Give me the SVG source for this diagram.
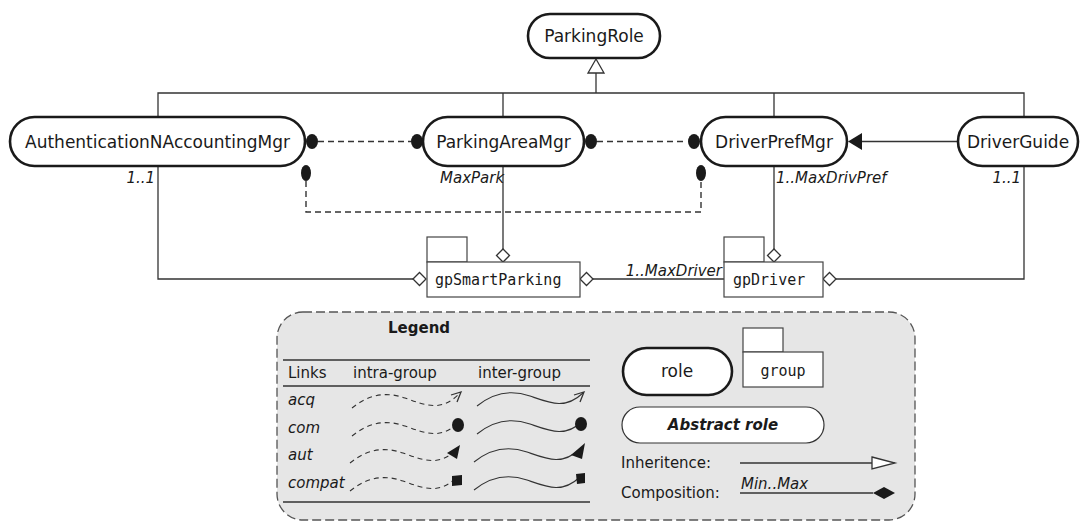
<svg xmlns="http://www.w3.org/2000/svg" width="1082" height="523" viewBox="0 0 1082 523">
<style>
.role{fill:#fff;stroke:#1a1a1a;stroke-width:2.6}
.lbl{font-family:"DejaVu Sans",sans-serif;font-size:17px;fill:#1a1a1a;text-anchor:middle}
.mono{font-family:"DejaVu Sans Mono",monospace;font-size:15px;fill:#1a1a1a}
.it{font-family:"DejaVu Sans",sans-serif;font-size:15px;font-style:italic;fill:#1a1a1a}
.lg{font-family:"DejaVu Sans",sans-serif;font-size:15px;fill:#1a1a1a}
.ln{fill:none;stroke:#333;stroke-width:1.3}
.dash{fill:none;stroke:#333;stroke-width:1.4;stroke-dasharray:6,4}
.grp{fill:#fff;stroke:#444;stroke-width:1.2}
.dot{fill:#1a1a1a}
.dia{fill:#fff;stroke:#333;stroke-width:1.3}
</style>
<defs>
<polygon id="diaH" points="-6.5,0 0,-6.5 6.5,0 0,6.5" class="dia"/>
<path id="wave" d="M0,0 C16,-13 33,-17 53,-10 S88,4 106,-13"/>
</defs>

<g id="connectors">
  <path class="ln" d="M596,93 V73"/>
  <polygon points="596,59 588,73 604,73" class="dia"/>
  <path class="ln" d="M158,117 V93 H1024 V117 M503,93 V117 M774,93 V117"/>
  <path class="dash" d="M318,141.5 H411 M597,141.5 H687"/>
  <ellipse class="dot" cx="312" cy="141.5" rx="6" ry="7.5"/>
  <ellipse class="dot" cx="417" cy="141.5" rx="6" ry="7.5"/>
  <ellipse class="dot" cx="591" cy="141.5" rx="6" ry="7.5"/>
  <ellipse class="dot" cx="694" cy="141.5" rx="6" ry="7.5"/>
  <path class="ln" d="M958,141.5 H862"/>
  <polygon class="dot" points="848,141.5 862,133 862,150"/>
  <path class="dash" d="M306,181 V212 H701 V181"/>
  <ellipse class="dot" cx="306" cy="173" rx="5" ry="8"/>
  <ellipse class="dot" cx="701" cy="173" rx="5" ry="8"/>
  <path class="ln" d="M158,166 V279 H413 M503,166 V249 M774,166 V249 M1024,166 V279 H836 M593,279 H724"/>
  <use href="#diaH" x="419.5" y="279"/>
  <use href="#diaH" x="503" y="255.5"/>
  <use href="#diaH" x="774" y="255.5"/>
  <use href="#diaH" x="829.5" y="279"/>
  <use href="#diaH" x="586.5" y="279"/>
  <text class="it" x="155" y="183" text-anchor="end">1..1</text>
  <text class="it" x="440" y="183">MaxPark</text>
  <text class="it" x="776" y="183">1..MaxDrivPref</text>
  <text class="it" x="1021" y="183" text-anchor="end">1..1</text>
  <text class="it" x="722" y="276" text-anchor="end">1..MaxDriver</text>
</g>

<g id="ParkingRole">
  <rect class="role" x="528" y="14" width="132" height="44" rx="22"/>
  <text class="lbl" x="594" y="42">ParkingRole</text>
</g>
<g id="AuthenticationNAccountingMgr">
  <rect class="role" x="10" y="117" width="295" height="49" rx="24.5"/>
  <text class="lbl" x="157.5" y="147.5">AuthenticationNAccountingMgr</text>
</g>
<g id="ParkingAreaMgr">
  <rect class="role" x="423" y="117" width="161" height="49" rx="24.5"/>
  <text class="lbl" x="503.5" y="147.5">ParkingAreaMgr</text>
</g>
<g id="DriverPrefMgr">
  <rect class="role" x="701" y="117" width="146" height="49" rx="24.5"/>
  <text class="lbl" x="774" y="147.5">DriverPrefMgr</text>
</g>
<g id="DriverGuide">
  <rect class="role" x="958" y="117" width="120" height="49" rx="24.5"/>
  <text class="lbl" x="1018" y="147.5">DriverGuide</text>
</g>
<g id="gpSmartParking">
  <rect class="grp" x="427" y="237" width="40" height="25"/>
  <rect class="grp" x="427" y="262" width="153" height="35"/>
  <text class="mono" x="435" y="285">gpSmartParking</text>
</g>
<g id="gpDriver">
  <rect class="grp" x="724" y="237" width="40" height="25"/>
  <rect class="grp" x="724" y="262" width="99" height="35"/>
  <text class="mono" x="733" y="285">gpDriver</text>
</g>

<g id="legend">
  <rect x="277" y="312" width="638" height="208" rx="26" fill="#e6e6e6" stroke="#555" stroke-width="1.3" stroke-dasharray="9,4"/>
  <text class="lg" x="388" y="333" font-weight="bold">Legend</text>
  <path class="ln" d="M283,360 H590 M283,386 H590 M283,502 H590"/>
  <text class="lg" x="288" y="378">Links</text>
  <text class="lg" x="353" y="378">intra-group</text>
  <text class="lg" x="478" y="378">inter-group</text>
  <text class="lg" x="288" y="405" font-style="italic">acq</text>
  <text class="lg" x="288" y="433" font-style="italic">com</text>
  <text class="lg" x="288" y="460" font-style="italic">aut</text>
  <text class="lg" x="288" y="488" font-style="italic">compat</text>
  <g class="dash" style="stroke-dasharray:5,4;stroke-width:1.1">
    <use href="#wave" x="352" y="408"/>
    <use href="#wave" x="352" y="436"/>
    <use href="#wave" x="350" y="463"/>
    <use href="#wave" x="350" y="491"/>
  </g>
  <g class="ln" style="stroke-width:1.1">
    <use href="#wave" x="477" y="406"/>
    <use href="#wave" x="477" y="434"/>
    <use href="#wave" x="474" y="462"/>
    <use href="#wave" x="474" y="490"/>
  </g>
  <polyline class="ln" points="451,395 461,392 457,402"/>
  <polyline class="ln" points="574,395 584,392 580,402"/>
  <ellipse class="dot" cx="458" cy="425" rx="6" ry="7"/>
  <ellipse class="dot" cx="581" cy="424" rx="6" ry="7"/>
  <polygon class="dot" points="447,453 460,445 457,459"/>
  <polygon class="dot" points="571,455 585,443 582,459"/>
  <polygon class="dot" points="452,476 462,475 462,485 452,486"/>
  <polygon class="dot" points="576,474 585,473 585,483 577,484"/>

  <rect class="role" x="623" y="348" width="109" height="47" rx="23.5"/>
  <text class="lbl" x="677" y="377">role</text>
  <rect class="grp" x="743" y="328" width="40" height="24"/>
  <rect class="grp" x="743" y="352" width="80" height="35"/>
  <text class="mono" x="783" y="376" text-anchor="middle">group</text>
  <rect x="622" y="407" width="202" height="36" rx="18" fill="#fff" stroke="#333" stroke-width="1.2"/>
  <text class="lg" x="723" y="430" text-anchor="middle" font-weight="bold" font-style="italic">Abstract role</text>
  <text class="lg" x="621" y="468">Inheritence:</text>
  <path class="ln" d="M740,463 H872"/>
  <polygon class="dia" points="872,457 895,463 872,469"/>
  <text class="lg" x="621" y="498">Composition:</text>
  <text class="it" x="741" y="489">Min..Max</text>
  <path class="ln" d="M740,493 H873"/>
  <polygon class="dot" points="873,493 884,487 895,493 884,499"/>
</g>
</svg>
